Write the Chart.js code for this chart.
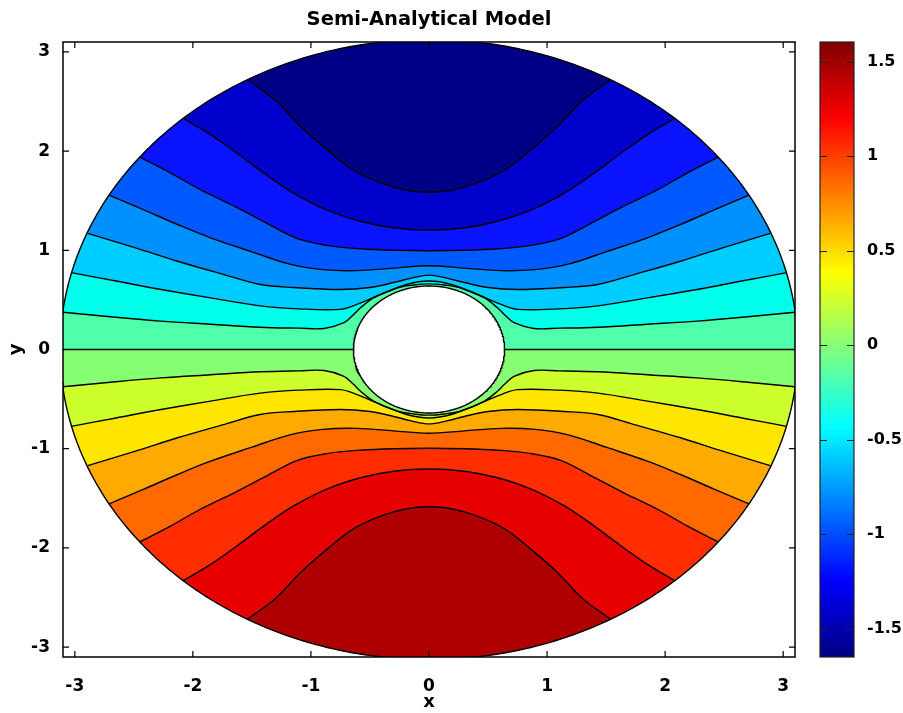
<!DOCTYPE html>
<html>
<head>
<meta charset="utf-8">
<script src="https://cdn.jsdelivr.net/npm/chart.js@4.4.1/dist/chart.umd.min.js"></script>
<style>
  html, body { margin: 0; padding: 0; background: #fff; overflow: hidden; }
  #wrap { position: relative; width: 903px; height: 713px; }
  #main { position: absolute; left: 0; top: 0; }
  #bar { position: absolute; left: 800px; top: 0; }
</style>
</head>
<body>
<div id="wrap">
  <canvas id="main" width="903" height="713"></canvas>
  <canvas id="bar" width="103" height="713"></canvas>
</div>
<script>
// --- DATA ---
const xTicks = [-3, -2, -1, 0, 1, 2, 3];
const yTicks = [-3, -2, -1, 0, 1, 2, 3];
const cbTicks = [-1.5, -1, -0.5, 0, 0.5, 1, 1.5];
const cbMin = -1.65, cbMax = 1.605;

const rimRadius = 3.125;   // outer edge of the domain
const holeRadius = 0.64;   // cylinder in the middle

// contour levels (upper half is -level, lower half +level)
const levels = [0.2, 0.4, 0.6, 0.8, 1.0, 1.2, 1.4];

const psi02 = [[-3.1,0.376],[-2.7,0.33],[-2.27,0.286],[-1.85,0.255],[-1.43,0.225],[-1.1,0.215],[-0.89,0.212],[-0.72,0.27],[-0.64,0.35],[-0.58,0.42],[-0.47,0.52],[-0.27,0.62],[-0.13,0.65],[0,0.662]];
const psi04 = [[-3.03,0.775],[-2.65,0.69],[-2.27,0.605],[-1.85,0.52],[-1.43,0.44],[-1.1,0.41],[-0.75,0.405],[-0.61,0.454],[-0.41,0.555],[-0.19,0.655],[0,0.69]];
const psi06 = [[-2.89,1.17],[-2.5,1.03],[-2.13,0.89],[-1.75,0.76],[-1.43,0.655],[-1.15,0.625],[-0.75,0.605],[-0.5,0.625],[-0.3,0.675],[-0.15,0.72],[0,0.75]];
const psi08 = [[-2.71,1.557],[-2.42,1.41],[-2.13,1.26],[-1.85,1.126],[-1.5,0.985],[-1.18,0.86],[-0.9,0.805],[-0.61,0.795],[-0.3,0.82],[0,0.845]];
const psi10 = [[-2.45,1.94],[-2.19,1.78],[-1.94,1.613],[-1.65,1.445],[-1.4,1.29],[-1.12,1.12],[-0.87,1.05],[-0.58,1.015],[-0.3,1.0],[0,0.995]];
const psi12 = [[-2.08,2.33],[-1.85,2.167],[-1.63,1.983],[-1.4,1.78],[-1.15,1.58],[-0.87,1.41],[-0.58,1.293],[-0.3,1.227],[0,1.205]];
const psi14 = [[-1.54,2.72],[-1.3,2.51],[-1.09,2.25],[-0.87,2.02],[-0.65,1.815],[-0.41,1.68],[-0.19,1.606],[0,1.586]];

// band colours, most negative (top) to most positive (bottom)
const bandColors = ['#000087','#0000cd','#0a14ff','#005aff','#0091ff','#00cdff','#00ffeb','#50ffaa',
                    '#87ff73','#cdff2d','#ffe600','#ffaa00','#ff6900','#ff2d00','#e60000','#af0000'];
const jetStops = [[0,'#000080'],[0.125,'#0000ff'],[0.375,'#00ffff'],[0.625,'#ffff00'],[0.875,'#ff0000'],[1,'#800000']];

const tickFont = { family: 'DejaVu Sans', size: 17, weight: 'bold' };
const barFont = { family: 'DejaVu Sans', size: 16, weight: 'bold' };
const labelFont = { family: 'DejaVu Sans', size: 18, weight: 'bold' };

// --- GEOMETRY HELPERS ---
const STEP = Math.PI / 180;
function arcPts(r, a0, a1){
  const n = Math.max(2, Math.ceil(Math.abs(a1 - a0) / STEP));
  const out = [];
  for(let i = 0; i <= n; i++){
    const a = a0 + (a1 - a0) * i / n;
    out.push({ x: r * Math.cos(a), y: r * Math.sin(a) });
  }
  return out;
}

// left quarter + its mirror on the right, sign flips to the lower half
function fullLine(q, sign){
  const left = q.map(([x, y]) => ({ x, y: sign * y }));
  const right = q.slice(0, -1).reverse().map(([x, y]) => ({ x: -x, y: sign * y }));
  return left.concat(right);
}

// region between a contour and the rim (away from the x axis)
function beyond(line){
  const a = line[line.length - 1], b = line[0];
  return line.concat(arcPts(rimRadius, Math.atan2(a.y, a.x), Math.atan2(b.y, b.x)));
}

const baseUpper = [{x:-rimRadius,y:0}].concat(arcPts(holeRadius, Math.PI, 0), [{x:rimRadius,y:0}], arcPts(rimRadius, 0, Math.PI));
const baseLower = [{x:-rimRadius,y:0}].concat(arcPts(holeRadius, -Math.PI, 0), [{x:rimRadius,y:0}], arcPts(rimRadius, 0, -Math.PI));

const fillSet = (pts, color, order, tension) => ({
  data: pts, backgroundColor: color, borderColor: 'transparent', borderWidth: 0,
  fill: 'shape', tension, order, pointRadius: 0
});
const lineSet = (pts, tension) => ({
  data: pts, borderColor: '#000', borderWidth: 1.4, fill: false, tension, order: 0, pointRadius: 0
});

const datasets = [];
datasets.push(fillSet(baseUpper, bandColors[7], 100, 0));
datasets.push(fillSet(baseLower, bandColors[8], 100, 0));

[psi02, psi04, psi06, psi08, psi10, psi12, psi14].forEach((q, i) => {
  const k = i + 1;
  const up = fullLine(q, 1), dn = fullLine(q, -1);
  datasets.push(fillSet(beyond(up), bandColors[7 - k], 100 - k, 0.35));
  datasets.push(fillSet(beyond(dn), bandColors[8 + k], 100 - k, 0.35));
  datasets.push(lineSet(up, 0.35));
  datasets.push(lineSet(dn, 0.35));
});

datasets.push(lineSet([{x:-rimRadius,y:0},{x:-holeRadius,y:0}], 0));
datasets.push(lineSet([{x:holeRadius,y:0},{x:rimRadius,y:0}], 0));
datasets.push(lineSet(arcPts(holeRadius, 0, 2 * Math.PI), 0));
datasets.push(lineSet(arcPts(rimRadius, 0, 2 * Math.PI), 0));

// --- FRAME, INWARD TICKS, TITLE ---
const framePlugin = {
  id: 'frame',
  afterDatasetsDraw(chart){
    const { ctx, chartArea: a, scales } = chart;
    ctx.save();
    ctx.strokeStyle = '#000';
    ctx.lineWidth = 1.5;
    ctx.strokeRect(a.left, a.top, a.right - a.left, a.bottom - a.top);
    ctx.beginPath();
    xTicks.forEach(v => {
      const px = scales.x.getPixelForValue(v);
      ctx.moveTo(px, a.bottom); ctx.lineTo(px, a.bottom - 6);
      ctx.moveTo(px, a.top); ctx.lineTo(px, a.top + 6);
    });
    yTicks.forEach(v => {
      const py = scales.y.getPixelForValue(v);
      ctx.moveTo(a.left, py); ctx.lineTo(a.left + 6, py);
      ctx.moveTo(a.right, py); ctx.lineTo(a.right - 6, py);
    });
    ctx.lineWidth = 1.2;
    ctx.stroke();
    ctx.fillStyle = '#000';
    ctx.font = 'bold 19.5px "DejaVu Sans"';
    ctx.textAlign = 'center';
    ctx.textBaseline = 'middle';
    ctx.fillText('Semi-Analytical Model', (a.left + a.right) / 2, 20);
    ctx.restore();
  }
};

new Chart(document.getElementById('main'), {
  type: 'line',
  data: { datasets },
  options: {
    responsive: false,
    animation: false,
    events: [],
    layout: { padding: { top: 42, right: 108, left: 0, bottom: 0 } },
    plugins: { legend: { display: false }, tooltip: { enabled: false }, filler: { propagate: false } },
    scales: {
      x: {
        type: 'linear', min: -3.1, max: 3.1,
        grid: { display: false }, border: { display: false },
        afterBuildTicks: s => { s.ticks = xTicks.map(v => ({ value: v })); },
        afterFit: s => { s.height = 56; },
        ticks: { padding: 11, font: tickFont, color: '#000', maxRotation: 0, autoSkip: false, callback: v => String(v) },
        title: { display: true, text: 'x', font: labelFont, color: '#000', padding: { top: 0, bottom: 0 } }
      },
      y: {
        type: 'linear', min: -3.1, max: 3.1,
        grid: { display: false }, border: { display: false },
        afterBuildTicks: s => { s.ticks = yTicks.map(v => ({ value: v })); },
        afterFit: s => { s.width = 63; },
        ticks: { padding: 5, font: tickFont, color: '#000', autoSkip: false, callback: v => String(v) },
        title: { display: true, text: 'y', font: labelFont, color: '#000', padding: { top: 6, bottom: 0 } }
      }
    }
  },
  plugins: [framePlugin]
});

// --- COLORBAR ---
const barFrame = {
  id: 'barFrame',
  afterDatasetsDraw(chart){
    const { ctx, chartArea: a, scales } = chart;
    ctx.save();
    ctx.strokeStyle = '#222';
    ctx.lineWidth = 1;
    ctx.beginPath();
    cbTicks.forEach(v => {
      const py = Math.round(scales.y.getPixelForValue(v)) + 0.5;
      ctx.moveTo(a.left, py); ctx.lineTo(a.left + 7, py);
      ctx.moveTo(a.right, py); ctx.lineTo(a.right - 7, py);
    });
    ctx.stroke();
    ctx.lineWidth = 1.2;
    ctx.strokeRect(a.left, a.top, a.right - a.left, a.bottom - a.top);
    ctx.restore();
  }
};

new Chart(document.getElementById('bar'), {
  type: 'bar',
  data: {
    labels: [''],
    datasets: [{
      data: [[cbMin, cbMax]],
      backgroundColor: c => {
        const area = c.chart.chartArea;
        if(!area) return '#7fff7f';
        const g = c.chart.ctx.createLinearGradient(0, area.bottom, 0, area.top);
        jetStops.forEach(([t, col]) => g.addColorStop(t, col));
        return g;
      },
      borderWidth: 0,
      barPercentage: 1,
      categoryPercentage: 1
    }]
  },
  options: {
    responsive: false,
    animation: false,
    events: [],
    layout: { padding: { top: 42, left: 20, bottom: 56, right: 0 } },
    plugins: { legend: { display: false }, tooltip: { enabled: false } },
    scales: {
      x: { display: false },
      y: {
        position: 'right', min: cbMin, max: cbMax,
        grid: { display: false }, border: { display: false },
        afterBuildTicks: s => { s.ticks = cbTicks.map(v => ({ value: v })); },
        afterFit: s => { s.width = 49; },
        ticks: { padding: 5, font: barFont, color: '#000', autoSkip: false, callback: v => String(v) }
      }
    }
  },
  plugins: [barFrame]
});
</script>
</body>
</html>
